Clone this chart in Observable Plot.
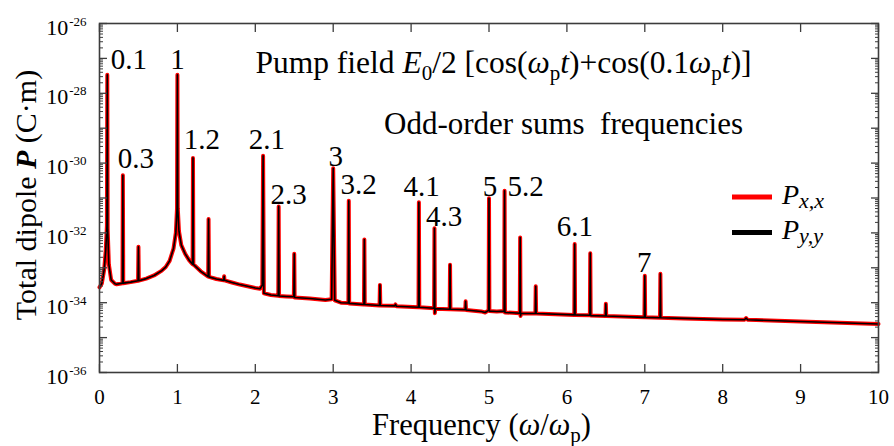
<!DOCTYPE html>
<html><head><meta charset="utf-8">
<script src="https://cdn.jsdelivr.net/npm/d3@7"></script>
<script src="https://cdn.jsdelivr.net/npm/@observablehq/plot@0.6"></script>
<style>
html,body{margin:0;padding:0;background:#fff;}
#chart{width:894px;height:446px;}
</style></head><body><div id="chart"></div>
<script>
// ---- data (frequency in units of ω_p, dipole in C·m) ----
const freq = [
  0.00,0.03,0.06,0.08,0.095,0.10,0.105,0.12,0.15,0.20,
  0.22,0.295,0.30,0.305,0.40,0.495,0.50,0.505,0.60,0.70,
  0.80,0.85,0.90,0.95,0.98,0.995,1.00,1.005,1.02,1.05,
  1.10,1.15,1.195,1.20,1.205,1.30,1.395,1.40,1.405,1.50,
  1.595,1.60,1.605,1.70,1.80,1.90,2.00,2.06,2.09,2.10,
  2.11,2.20,2.295,2.30,2.305,2.40,2.495,2.50,2.505,2.70,
  2.90,2.98,3.00,3.02,3.10,3.195,3.20,3.205,3.395,3.40,
  3.405,3.595,3.60,3.605,3.79,3.80,3.81,4.095,4.10,4.105,
  4.295,4.30,4.305,4.31,4.495,4.50,4.505,4.695,4.70,4.705,
  4.90,4.95,4.995,5.00,5.005,5.10,5.195,5.20,5.205,5.30,
  5.395,5.40,5.405,5.41,5.595,5.60,5.605,6.095,6.10,6.105,
  6.295,6.30,6.305,6.495,6.50,6.505,6.995,7.00,7.005,7.195,
  7.20,7.205,7.50,8.00,8.28,8.30,8.32,9.00,10.00
];
// P_x,x and P_y,y coincide on the picture: both curves are drawn from this series
const dipole = [
  2.75e-34,3.55e-34,8.91e-34,3.16e-33,1.58e-32,3.39e-28,1.26e-32,1.26e-33,4.47e-34,3.47e-34,
  3.39e-34,3.63e-34,4.47e-31,3.63e-34,3.89e-34,4.27e-34,3.98e-33,4.27e-34,4.90e-34,6.03e-34,
  8.32e-34,1.05e-33,1.58e-33,3.55e-33,1.00e-32,5.01e-32,3.39e-28,5.01e-32,1.12e-32,4.47e-33,
  2.51e-33,1.66e-33,1.26e-33,1.41e-30,1.26e-33,7.94e-34,5.62e-34,2.51e-32,5.50e-34,4.79e-34,
  4.37e-34,5.75e-34,4.37e-34,3.80e-34,3.31e-34,2.95e-34,2.63e-34,2.51e-34,3.16e-34,1.62e-30,
  1.86e-34,1.66e-34,1.58e-34,5.75e-32,1.55e-34,1.51e-34,1.48e-34,2.51e-33,1.41e-34,1.32e-34,
  1.20e-34,1.26e-34,7.08e-31,1.17e-34,1.00e-34,9.77e-35,8.32e-32,9.55e-35,8.91e-35,6.46e-33,
  8.91e-35,8.32e-35,3.24e-34,8.32e-35,8.13e-35,8.91e-35,7.94e-35,7.41e-35,7.59e-32,7.41e-35,
  6.92e-35,1.35e-32,5.01e-35,6.76e-35,6.46e-35,1.23e-33,6.46e-35,6.31e-35,1.10e-34,6.17e-35,
  5.62e-35,5.25e-35,6.03e-35,9.77e-32,5.75e-35,5.62e-35,5.75e-35,1.62e-31,5.25e-35,5.13e-35,
  5.01e-35,7.41e-33,4.17e-35,5.01e-35,4.90e-35,2.95e-34,4.90e-35,4.47e-35,4.79e-33,4.47e-35,
  4.37e-35,2.63e-33,4.27e-35,4.17e-35,9.33e-35,4.17e-35,3.80e-35,5.89e-34,3.80e-35,3.72e-35,
  6.76e-34,3.72e-35,3.55e-35,3.31e-35,3.24e-35,3.63e-35,3.24e-35,2.88e-35,2.45e-35
];
const seriesNames = ["x,x", "y,y"];
const seriesColors = ["#ff0000", "#000000"];

// peak annotations (anchored in data coordinates)
const peakText = ["0.1","1","0.3","1.2","2.1","2.3","3","3.2","4.1","4.3","5","5.2","6.1","7"];
const peakAtX  = [0.378,1.0,0.468,1.314,2.147,2.429,3.032,3.327,4.135,4.423,5.013,5.47,6.103,6.994];
const peakAtY  = [5.05e-28,5.05e-28,7.4e-31,2.59e-30,2.59e-30,6.89e-32,8.43e-31,1.33e-31,1.17e-31,1.61e-32,1.17e-31,1.17e-31,8.36e-33,7.43e-34];

const xTicks = [0,1,2,3,4,5,6,7,8,9,10];
const yLabelExps = [-36,-34,-32,-30,-28,-26];

// ---- build ----
const FONT = "Liberation Serif";
const AX = "#3c3c3c";
const rows = freq.map((f, i) => ({f, p: dipole[i]}));
const labels = peakText.map((t, i) => ({t, x: peakAtX[i], y: peakAtY[i]}));
const yLabeled = yLabelExps.map(e => Math.pow(10, e));
const yMajor = d3.range(-36, -25).map(e => Math.pow(10, e));
const yMinor = [];
for (let e = -36; e < -26; e++) for (let m = 2; m <= 9; m++) yMinor.push(m * Math.pow(10, e));
const blank = () => "";

const tickAxes = [];
for (const anchor of ["left", "right"]) {
  tickAxes.push(Plot.axisY({anchor, ticks: yMajor, tickSize: -8, tickFormat: blank, label: null, stroke: AX, strokeWidth: 1.3}));
  tickAxes.push(Plot.axisY({anchor, ticks: yMinor, tickSize: -4, tickFormat: blank, label: null, stroke: AX, strokeWidth: 1}));
}
for (const anchor of ["bottom", "top"]) {
  tickAxes.push(Plot.axisX({anchor, ticks: xTicks, tickSize: -8, tickFormat: blank, label: null, stroke: AX, strokeWidth: 1.3}));
}

const chart = Plot.plot({
  width: 894, height: 446,
  marginLeft: 99, marginRight: 16, marginTop: 23, marginBottom: 74,
  x: {domain: [0, 10]},
  y: {type: "log", domain: [1e-36, 1e-26]},
  style: {fontFamily: FONT, fontSize: "21px", color: "#000", background: "#fff"},
  marks: [
    Plot.line(rows, {x: "f", y: "p", stroke: seriesColors[0], strokeWidth: 4}),
    Plot.line(rows, {x: "f", y: "p", stroke: seriesColors[1], strokeWidth: 1.6}),
    ...tickAxes,
    Plot.axisX({anchor: "bottom", ticks: xTicks, tickSize: 0, tickPadding: 17, tickFormat: d => String(d), label: null, fontSize: 21}),
    Plot.axisY({anchor: "left", ticks: yLabeled, tickSize: 0, tickPadding: 13, dy: 4,
      tickFormat: d => String(Math.round(Math.log10(d))), label: null, fontSize: 22}),
    Plot.frame({stroke: AX, strokeWidth: 1.6}),
    Plot.text(labels, {x: "x", y: "y", text: "t", fontSize: 29, textAnchor: "middle", lineAnchor: "bottom", fill: "#000"})
  ]
});
document.getElementById("chart").appendChild(chart);

const svg = d3.select(chart);
// y tick labels -> 10 with superscript exponent
svg.selectAll("g[aria-label='y-axis tick label'] text").each(function() {
  const t = d3.select(this);
  const exp = t.text();
  if (!exp) return;
  t.text("");
  t.append("tspan").text("10");
  t.append("tspan").attr("font-size", 13).attr("dy", -9).attr("dx", 1).text(exp);
});

// rich text helper
function rich(x, y, parts, {size = 30, anchor = "start", transform = null} = {}) {
  const t = svg.append("text")
    .attr("font-family", FONT).attr("font-size", size).attr("fill", "#000")
    .attr("text-anchor", anchor);
  if (transform) t.attr("transform", transform); else t.attr("x", x).attr("y", y);
  let shift = 0;
  for (const p of parts) {
    const s = t.append("tspan").text(p.t);
    const want = p.sub ? (p.shift ?? Math.round(size * 0.22)) : 0;
    if (want !== shift) { s.attr("dy", want - shift); shift = want; }
    if (p.sub) s.attr("font-size", p.subSize ?? Math.round(size * 0.68));
    if (p.i) s.attr("font-style", "italic");
    if (p.b) s.attr("font-weight", "bold");
  }
  return t;
}

// title lines
rich(503.5, 73, [
  {t: "Pump field "}, {t: "E", i: true}, {t: "0", sub: true}, {t: "/2 [cos("},
  {t: "ω", i: true}, {t: "p", sub: true}, {t: "t", i: true}, {t: ")+cos(0.1"},
  {t: "ω", i: true}, {t: "p", sub: true}, {t: "t", i: true}, {t: ")]"}
], {size: 31.5, anchor: "middle"});
rich(563.5, 134, [{t: "Odd-order sums  frequencies"}], {size: 31, anchor: "middle"});

// axis titles
rich(481.5, 435, [
  {t: "Frequency ("}, {t: "ω", i: true}, {t: "/"}, {t: "ω", i: true}, {t: "p", sub: true}, {t: ")"}
], {size: 30.5, anchor: "middle"});
rich(0, 0, [{t: "Total dipole "}, {t: "P", i: true, b: true}, {t: " (C·m)"}],
  {size: 30, anchor: "middle", transform: "translate(36,195) rotate(-90)"});

// legend
const legY = [197, 232.5];
seriesNames.forEach((name, i) => {
  svg.append("line").attr("x1", 732).attr("x2", 772).attr("y1", legY[i]).attr("y2", legY[i])
    .attr("stroke", seriesColors[i]).attr("stroke-width", 5);
  rich(782, legY[i] + 6.5, [{t: "P", i: true}, {t: name, i: true, sub: true, shift: 4, subSize: 22}], {size: 28});
});
</script></body></html>
